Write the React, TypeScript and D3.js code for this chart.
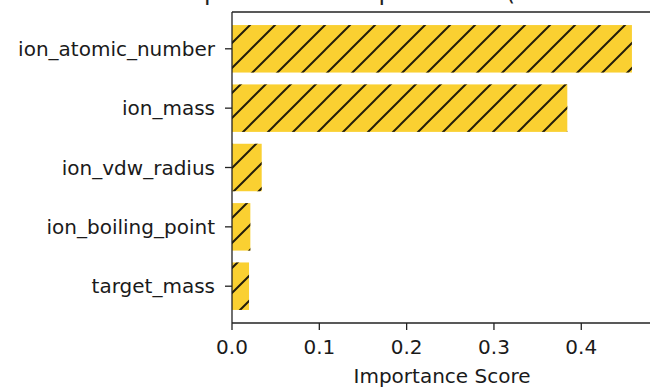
import React from "react";
import * as d3 from "d3";

// feature importance (top 5)
const features = ["ion_atomic_number", "ion_mass", "ion_vdw_radius", "ion_boiling_point", "target_mass"];
const scores = [0.458, 0.384, 0.034, 0.021, 0.0195];
const xTicks = [0, 0.1, 0.2, 0.3, 0.4];
const title = "Top 5 Feature Importances (Random Forest)";
const xLabel = "Importance Score";

const W = 650;
const H = 387;
const left = 232;
const right = 652;
const top = 12;
const bottom = 323;
const font = "'DejaVu Sans', sans-serif";
const fontSize = 20;

export default function App() {
  const x = d3.scaleLinear().domain([0, 0.481]).range([left, right]);
  const y = d3.scaleLinear().domain([-0.62, features.length - 1 + 0.62]).range([top, bottom]);
  const barH = (y(1) - y(0)) * 0.8;

  return (
    <svg width={W} height={H} style={{ position: "absolute", left: 0, top: 0, background: "#fff" }}>
      <defs>
        <pattern id="hatch" patternUnits="userSpaceOnUse" width={25} height={25}>
          <path
            d="M-2,2 L2,-2 M0,25 L25,0 M23,27 L27,23"
            stroke="#241d0a"
            strokeWidth={2}
          />
        </pattern>
      </defs>

      {/* title sits mostly above the visible area, as in the source */}
      <text x={(left + right) / 2} y={0} textAnchor="middle" fontFamily={font} fontSize={24} fill="#222">
        {title}
      </text>

      {features.map((f, i) => (
        <g key={f}>
          <rect x={x(0)} y={y(i) - barH / 2} width={x(scores[i]) - x(0)} height={barH} fill="#fad031" />
          <rect x={x(0)} y={y(i) - barH / 2} width={x(scores[i]) - x(0)} height={barH} fill="url(#hatch)" />
        </g>
      ))}

      {/* spines */}
      <g stroke="#222" strokeWidth={1.3} fill="none">
        <line x1={left} x2={left} y1={top} y2={bottom} />
        <line x1={left} x2={right} y1={bottom} y2={bottom} />
        <line x1={left} x2={right} y1={top} y2={top} />
        <line x1={right} x2={right} y1={top} y2={bottom} />
      </g>

      {/* y ticks */}
      {features.map((f, i) => (
        <g key={"yt" + f}>
          <line x1={left - 7} x2={left} y1={y(i)} y2={y(i)} stroke="#222" strokeWidth={1.3} />
          <text
            x={left - 17}
            y={y(i)}
            dy="0.36em"
            textAnchor="end"
            fontFamily={font}
            fontSize={fontSize}
            fill="#1a1a1a"
          >
            {f}
          </text>
        </g>
      ))}

      {/* x ticks */}
      {xTicks.map((t) => (
        <g key={"xt" + t}>
          <line x1={x(t)} x2={x(t)} y1={bottom} y2={bottom + 7} stroke="#222" strokeWidth={1.3} />
          <text x={x(t)} y={354} textAnchor="middle" fontFamily={font} fontSize={fontSize} fill="#1a1a1a">
            {d3.format(".1f")(t)}
          </text>
        </g>
      ))}

      <text x={(left + right) / 2} y={383} textAnchor="middle" fontFamily={font} fontSize={fontSize} fill="#1a1a1a">
        {xLabel}
      </text>
    </svg>
  );
}
